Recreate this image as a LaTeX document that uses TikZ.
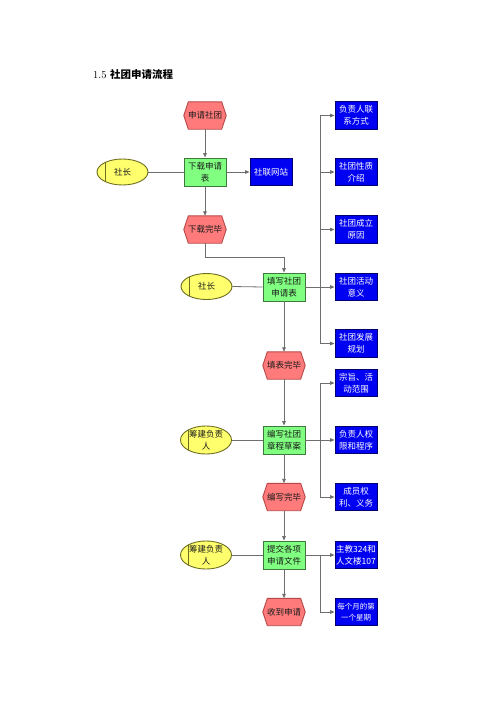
\documentclass[tikz,border=0pt]{standalone}
\usepackage{fontspec}
\newfontfamily\cjk{Noto Sans CJK SC}
\usetikzlibrary{arrows.meta,shapes.geometric,backgrounds}
\definecolor{hexfill}{HTML}{FF7B7B}
\definecolor{hexline}{HTML}{B84848}
\definecolor{grnfill}{HTML}{80FF80}
\definecolor{grnline}{HTML}{3C7A3C}
\definecolor{bluefill}{HTML}{0000F2}
\definecolor{blueline}{HTML}{000070}
\definecolor{yelfill}{HTML}{FFFF6E}
\definecolor{yelline}{HTML}{6E6E20}
\definecolor{conn}{HTML}{6E6E6E}
\definecolor{txt}{HTML}{1A1A1A}
\tikzset{
  lbl/.style={font=\cjk\fontsize{8.5}{12}\selectfont, align=center, inner sep=0pt},
  hexnode/.style={lbl, text=txt, minimum width=42pt, minimum height=27pt},
  grnbox/.style={lbl, text=txt, draw=grnline, fill=grnfill, line width=0.9pt, minimum width=42pt, minimum height=28pt},
  bluebox/.style={lbl, text=white, draw=blueline, fill=bluefill, line width=0.9pt, minimum width=42pt, minimum height=27.5pt},
  orgunit/.style={lbl, text=txt, ellipse, draw=yelline, fill=yelfill, line width=0.9pt, minimum width=51pt, minimum height=26pt,
     path picture={\draw[yelline, line width=0.9pt] ([xshift=8pt]path picture bounding box.north west) -- ([xshift=8pt]path picture bounding box.south west);}},
  line/.style={draw=conn, line width=0.8pt},
  arr/.style={line, -{Triangle[length=4.5pt,width=3.6pt]}},
}
\newcommand{\hexdraw}[1]{%
  \begin{scope}[on background layer]
  \draw[hexline, fill=hexfill, line width=0.9pt]
    ([xshift=4.5pt]#1.north west) -- ([xshift=-4.5pt]#1.north east) -- (#1.east)
    -- ([xshift=-4.5pt]#1.south east) -- ([xshift=4.5pt]#1.south west) -- (#1.west) -- cycle;
  \end{scope}}
\begin{document}
\begin{tikzpicture}[x=1pt,y=-1pt]
\useasboundingbox (0,0) rectangle (500,707);
\begin{scope}[on background layer]
\fill[white] (0,0) rectangle (500,707);
\end{scope}

\node[anchor=west, inner sep=0pt] (title) at (93,74) {\fontsize{10.5}{12}\selectfont 1.5 {\cjk\bfseries 社团申请流程}};

% main column
\node[hexnode] (h1) at (205,115.5) {申请社团}; \hexdraw{h1}
\node[grnbox] (g1) at (205,172) {下载申请\\表};
\node[orgunit] (e1) at (122.5,172) {社长};
\node[bluebox] (b0) at (271,172) {社联网站};
\node[hexnode] (h2) at (205,229.5) {下载完毕}; \hexdraw{h2}

\node[grnbox] (g2) at (284,287) {填写社团\\申请表};
\node[orgunit] (e2) at (206.5,286.5) {社长};
\node[hexnode] (h3) at (284,365.5) {填表完毕}; \hexdraw{h3}

\node[grnbox] (g3) at (284,440) {编写社团\\章程草案};
\node[orgunit] (e3) at (206,440) {筹建负责\\人};
\node[hexnode] (h4) at (284,497) {编写完毕}; \hexdraw{h4}

\node[grnbox] (g4) at (284,555) {提交各项\\申请文件};
\node[orgunit] (e4) at (206,555) {筹建负责\\人};
\node[hexnode] (h5) at (284,612) {收到申请}; \hexdraw{h5}

% right column
\node[bluebox] (r1) at (356,115.5) {负责人联\\系方式};
\node[bluebox] (r2) at (356,172) {社团性质\\介绍};
\node[bluebox] (r3) at (356,229.5) {社团成立\\原因};
\node[bluebox] (r4) at (356,287) {社团活动\\意义};
\node[bluebox] (r5) at (356,343.5) {社团发展\\规划};
\node[bluebox] (r6) at (356,383) {宗旨、活\\动范围};
\node[bluebox] (r7) at (356,440) {负责人权\\限和程序};
\node[bluebox] (r8) at (356,497) {成员权\\利、义务};
\node[bluebox] (r9) at (356,555) {主教324和\\人文楼107};
\node[bluebox, font=\cjk\fontsize{7.5}{11}\selectfont] (r10) at (356,612) {每个月的第\\一个星期};

\coordinate (T) at (320,0);

% connectors
\draw[arr] (h1.south) -- (g1.north);
\draw[line] (e1.east) -- (g1.west);
\draw[arr] (g1.east) -- (b0.west);
\draw[arr] (g1.south) -- (h2.north);
\draw[arr] (h2.south) -- ++(0,14) -| (g2.north);
\draw[line] (e2.east) -- (g2.west);
\draw[arr] (g2.south) -- (h3.north);
\draw[arr] (h3.south) -- (g3.north);
\draw[line] (e3.east) -- (g3.west);
\draw[arr] (g3.south) -- (h4.north);
\draw[arr] (h4.south) -- (g4.north);
\draw[line] (e4.east) -- (g4.west);
\draw[arr] (g4.south) -- (h5.north);

% branch 1
\draw[line] (r1.west -| T) -- (r5.west -| T);
\draw[arr] (g2.east) -- (r4.west);
\foreach \n in {r1,r2,r3,r5} \draw[arr] (\n.west -| T) -- (\n.west);
% branch 2
\draw[line] (r6.west -| T) -- (r8.west -| T);
\draw[arr] (g3.east) -- (r7.west);
\foreach \n in {r6,r8} \draw[arr] (\n.west -| T) -- (\n.west);
% branch 3
\draw[line] (r9.west -| T) -- (r10.west -| T);
\draw[arr] (g4.east) -- (r9.west);
\draw[arr] (r10.west -| T) -- (r10.west);
\end{tikzpicture}
\end{document}
